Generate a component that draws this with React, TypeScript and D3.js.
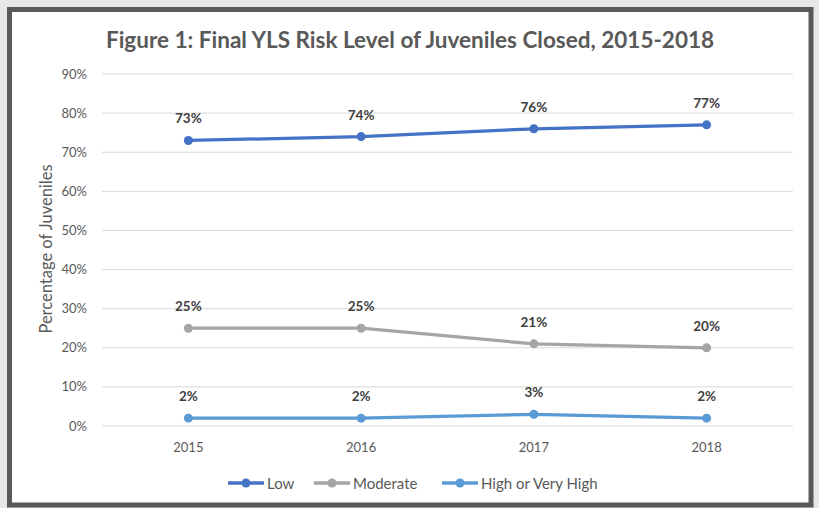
import React from "react";
import * as d3 from "d3";

const years = ["2015", "2016", "2017", "2018"];
const lowValues = [73, 74, 76, 77];
const moderateValues = [25, 25, 21, 20];
const highValues = [2, 2, 3, 2];
const yTicks = [0, 10, 20, 30, 40, 50, 60, 70, 80, 90];
const seriesNames = ["Low", "Moderate", "High or Very High"];
const seriesColors = ["#4472C4", "#A5A5A5", "#5B9BD5"];

const W = 819;
const H = 508;
const FONT = "Lato, 'Open Sans', sans-serif";

export default function App() {
  const x = d3.scaleBand<string>().domain(years).range([102, 793]);
  const y = d3.scaleLinear().domain([0, 90]).range([426, 74]);
  const series = [lowValues, moderateValues, highValues];
  const line = d3
    .line<number>()
    .x((_, i) => (x(years[i]) as number) + x.bandwidth() / 2)
    .y((d) => y(d));

  const legendX = [228, 314, 442];

  return (
    <svg
      width={W}
      height={H}
      style={{ position: "absolute", left: 0, top: 0, display: "block" }}
    >
      <rect x={0} y={0} width={W} height={H} fill="#E7E7E7" />
      <rect x={9.5} y={9.5} width={801.5} height={495.5} fill="#FFFFFF" stroke="#595959" strokeWidth={5} />
      <text
        x={410}
        y={48}
        textAnchor="middle"
        fontFamily={FONT}
        fontWeight="bold"
        fontSize={22.5}
        fill="#595959"
      >
        Figure 1: Final YLS Risk Level of Juveniles Closed, 2015-2018
      </text>
      {yTicks.map((t) => (
        <g key={t}>
          <line x1={102} x2={793} y1={y(t)} y2={y(t)} stroke="#D9D9D9" strokeWidth={1} />
          <text
            x={87}
            y={y(t) + 4.5}
            textAnchor="end"
            fontFamily={FONT}
            fontSize={13}
            fill="#595959"
          >
            {t}%
          </text>
        </g>
      ))}
      <text
        transform={`translate(52,249) rotate(-90)`}
        textAnchor="middle"
        fontFamily={FONT}
        fontSize={16.5}
        fill="#595959"
      >
        Percentage of Juveniles
      </text>
      {years.map((yr) => (
        <text
          key={yr}
          x={(x(yr) as number) + x.bandwidth() / 2}
          y={452}
          textAnchor="middle"
          fontFamily={FONT}
          fontSize={13}
          fill="#595959"
        >
          {yr}
        </text>
      ))}
      {series.map((vals, si) => (
        <g key={si}>
          <path d={line(vals) as string} fill="none" stroke={seriesColors[si]} strokeWidth={3.25} strokeLinejoin="round" />
          {vals.map((v, i) => {
            const cx = (x(years[i]) as number) + x.bandwidth() / 2;
            return (
              <g key={i}>
                <circle cx={cx} cy={y(v)} r={4.5} fill={seriesColors[si]} />
                <text
                  x={cx}
                  y={y(v) - 17}
                  textAnchor="middle"
                  fontFamily={FONT}
                  fontWeight="bold"
                  fontSize={13.5}
                  fill="#404040"
                >
                  {v}%
                </text>
              </g>
            );
          })}
        </g>
      ))}
      {seriesNames.map((name, si) => (
        <g key={name}>
          <line x1={legendX[si]} x2={legendX[si] + 36} y1={483} y2={483} stroke={seriesColors[si]} strokeWidth={3.5} />
          <circle cx={legendX[si] + 18} cy={483} r={4.5} fill={seriesColors[si]} />
          <text
            x={legendX[si] + 39}
            y={488.5}
            fontFamily={FONT}
            fontSize={15}
            fill="#595959"
          >
            {name}
          </text>
        </g>
      ))}
    </svg>
  );
}
